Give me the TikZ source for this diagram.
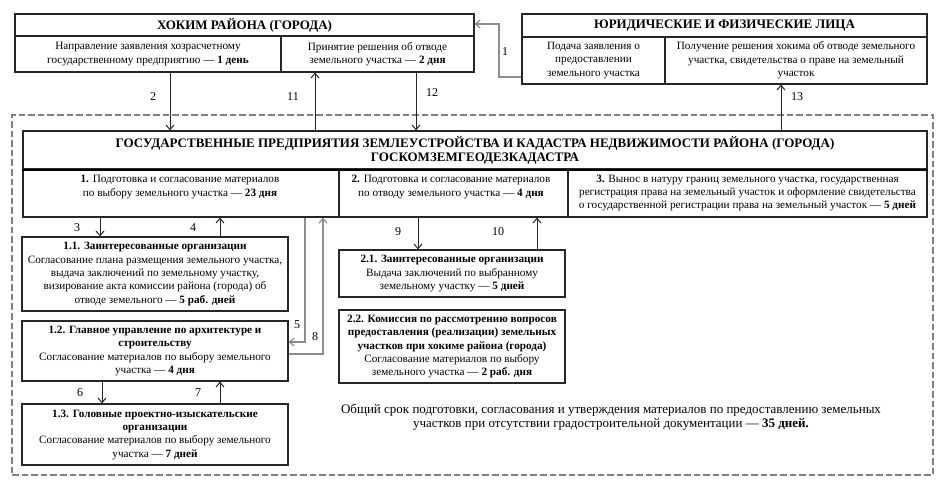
\documentclass[tikz,border=0pt]{standalone}
\usepackage{fontspec}
\setmainfont{Liberation Serif}
\usetikzlibrary{arrows.meta,calc}
\tikzset{
  box/.style={draw=black!85, line width=0.9pt, inner sep=0pt, align=center,
    font=\fontsize{8.4}{10}\selectfont},
  ttl/.style={box, font=\fontsize{9.75}{10.5}\selectfont\bfseries},
  txt/.style={inner sep=0pt, align=center, font=\fontsize{8.4}{10}\selectfont},
  lbl/.style={inner sep=0pt, font=\fontsize{9}{10}\selectfont},
  dbox/.style={draw=black!50, line width=0.8pt, dash pattern=on 5pt off 2.2pt, inner sep=0pt},
  arr/.style={draw=black!85, line width=0.75pt, -{Straight Barb[length=3.5pt,width=6pt]}},
  garr/.style={arr, draw=black!45, line width=0.9pt},
}
\newcommand\mybox[7][box]{\node[#1, minimum width={(#5-#3)*0.75pt}, minimum height={(#6-#4)*0.75pt}] (#2) at ({(#3+#5)/2},{(#4+#6)/2}) {#7};}
\begin{document}
\begin{tikzpicture}[x=0.75pt,y=-0.75pt]
\useasboundingbox (0,0) rectangle (942,489);
\fill[white] (0,0) rectangle (942,489);
\mybox[dbox]{outer}{12}{115}{933}{475}{}
% Hokim
\mybox[ttl]{hk}{15}{14}{474}{36}{ХОКИМ РАЙОНА (ГОРОДА)}
\mybox{hl}{15}{36}{281}{72}{Направление заявления хозрасчетному\\государственному предприятию — \textbf{1 день}}
\mybox{hr}{281}{36}{474}{72}{Принятие решения об отводе\\земельного участка — \textbf{2 дня}}
% Juridical
\mybox[ttl]{jt}{522}{14}{927}{37}{ЮРИДИЧЕСКИЕ И ФИЗИЧЕСКИЕ ЛИЦА}
\mybox{jl}{522}{37}{665}{84}{Подача заявления о\\предоставлении\\земельного участка}
\mybox{jr}{665}{37}{927}{84}{Получение решения хокима об отводе земельного\\участка, свидетельства о праве на земельный\\участок}
% State enterprises
\mybox[ttl]{st}{23}{131}{927}{169}{ГОСУДАРСТВЕННЫЕ ПРЕДПРИЯТИЯ ЗЕМЛЕУСТРОЙСТВА И КАДАСТРА НЕДВИЖИМОСТИ РАЙОНА (ГОРОДА)\\ГОСКОМЗЕМГЕОДЕЗКАДАСТРА}
\mybox{s1}{23}{169}{339}{217}{}
\mybox{s2}{339}{169}{568}{217}{}
\mybox{s3}{568}{169}{927}{217}{\textbf{3.} Вынос в натуру границ земельного участка, государственная\\регистрация права на земельный участок и оформление свидетельства\\о государственной регистрации права на земельный участок — \textbf{5 дней}}
\draw[black, line width=1.5pt] (st.south west) -- (st.south east);
\node[txt] (s1t) at (180,187) {\textbf{1.} Подготовка и согласование материалов\\по выбору земельного участка — \textbf{23 дня}};
\node[txt] (s2t) at (451,187) {\textbf{2.} Подготовка и согласование материалов\\по отводу земельного участка — \textbf{4 дня}};
% Branch 1
\mybox{b11}{22}{237}{288}{311}{\textbf{1.1. Заинтересованные организации}\\Согласование плана размещения земельного участка,\\выдача заключений по земельному участку,\\визирование акта комиссии района (города) об\\отводе земельного — \textbf{5 раб. дней}}
\mybox{b12}{22}{321}{288}{381}{\textbf{1.2. Главное управление по архитектуре и}\\\textbf{строительству}\\Согласование материалов по выбору земельного\\участка — \textbf{4 дня}}
\mybox{b13}{22}{404}{288}{465}{\textbf{1.3. Головные проектно-изыскательские}\\\textbf{организации}\\Согласование материалов по выбору земельного\\участка — \textbf{7 дней}}
% Branch 2
\mybox{b21}{339}{250}{565}{297}{\textbf{2.1. Заинтересованные организации}\\Выдача заключений по выбранному\\земельному участку — \textbf{5 дней}}
\mybox{b22}{339}{310}{565}{383}{\textbf{2.2. Комиссия по рассмотрению вопросов}\\\textbf{предоставления (реализации) земельных}\\\textbf{участков при хокиме района (города)}\\Согласование материалов по выбору\\земельного участка — \textbf{2 раб. дня}}
% Summary
\node[txt, font=\fontsize{9.75}{10.5}\selectfont] (sum) at (611,417) {Общий срок подготовки, согласования и утверждения материалов по предоставлению земельных\\участков при отсутствии градостроительной документации — \textbf{35 дней.}};
% Connectors
\draw[garr] (jl.west |- 0,77) -- (499,77) -- (499,24) -- (hk.east |- 0,24);
\draw[arr] (hl.south -| 170,0) -- (st.north -| 170,0);
\draw[arr] (st.north -| 315,0) -- (hr.south -| 315,0);
\draw[arr] (hr.south -| 416,0) -- (st.north -| 416,0);
\draw[arr] (st.north -| 781,0) -- (jr.south -| 781,0);
\draw[arr] (s1.south -| 100,0) -- (b11.north -| 100,0);
\draw[arr] (b11.north -| 220,0) -- (s1.south -| 220,0);
\draw[garr] (s1.south -| 305,0) -- (305,342) -- (b12.east |- 0,342);
\draw[garr] (b12.east |- 0,354) -- (323,354) -- (s1.south -| 323,0);
\draw[arr] (b12.south -| 102,0) -- (b13.north -| 102,0);
\draw[arr] (b13.north -| 220,0) -- (b12.south -| 220,0);
\draw[arr] (s2.south -| 418,0) -- (b21.north -| 418,0);
\draw[arr] (b21.north -| 537,0) -- (s2.south -| 537,0);
% Labels
\node[lbl] (l1) at (505,52) {1};
\node[lbl] (l2) at (153,97) {2};
\node[lbl] (l11) at (293,97) {11};
\node[lbl] (l12) at (432,93) {12};
\node[lbl] (l13) at (797,97) {13};
\node[lbl] (l3) at (77,228) {3};
\node[lbl] (l4) at (193,228) {4};
\node[lbl] (l5) at (297,325) {5};
\node[lbl] (l8) at (315,337) {8};
\node[lbl] (l9) at (398,232) {9};
\node[lbl] (l10) at (498,232) {10};
\node[lbl] (l6) at (80,393) {6};
\node[lbl] (l7) at (198,393) {7};
\end{tikzpicture}
\end{document}
